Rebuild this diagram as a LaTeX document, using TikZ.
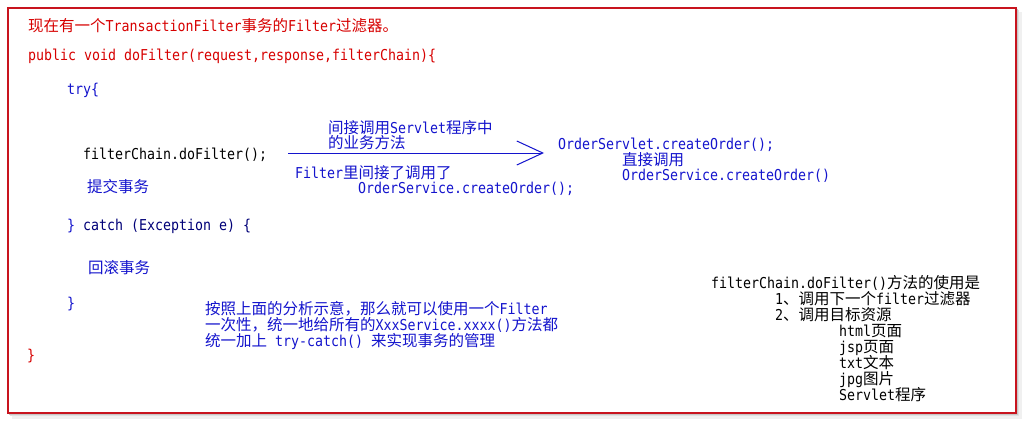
\documentclass[tikz,border=0pt]{standalone}
\usepackage{fontspec}
\setmainfont[FakeStretch=0.886]{DejaVu Sans Mono}
\newfontfamily\cjkf{Noto Sans CJK SC}
\newcommand\C[1]{{\cjkf\fontsize{15.5}{16}\selectfont #1}}
\usetikzlibrary{arrows.meta}
\definecolor{redtxt}{RGB}{215,0,0}
\definecolor{bluetxt}{RGB}{20,20,205}
\definecolor{navytxt}{RGB}{0,0,120}
\definecolor{frame}{RGB}{200,20,30}
\begin{document}
\begin{tikzpicture}[x=1pt,y=-1pt,
  t/.style={inner sep=0pt, anchor=base west, font=\fontsize{15}{16}\selectfont},
  red/.style={t, text=redtxt},
  blu/.style={t, text=bluetxt},
  blk/.style={t, text=black}]
\useasboundingbox (0,0) rectangle (1026,423);
% shadow and frame
\fill[black!6] (12,12) rectangle (1022,419);
\fill[black!12] (10,10) rectangle (1019,416);
\fill[black!22] (9,9) rectangle (1017.5,414.5);
\draw[frame, line width=1.4pt, fill=white] (8,8) rectangle (1016,413);
% code
\node[red] (l1) at (28,31) {\C{现在有一个}TransactionFilter\C{事务的}Filter\C{过滤器。}};
\node[red] (l2) at (28,60) {public void doFilter(request,response,filterChain)\{};
\node[blu] (try) at (67,94) {try\{};
\node[blk] (fc) at (83,159) {filterChain.doFilter();};
\node[blu] (commit) at (87,192) {\C{提交事务}};
\node[t, text=navytxt] (catch) at (67,230) {\textcolor{bluetxt}{\}} catch (Exception e) \{};
\node[blu] (rollback) at (88,273) {\C{回滚事务}};
\node[blu] (rb) at (67,308) {\}};
\node[red] (end) at (27,360) {\}};
% arrow and labels
\coordinate (a1) at (288,153);
\coordinate (a2) at (544,153);
\draw[bluetxt, line width=1pt, -{Straight Barb[length=26pt,width=24pt,line width=1pt]}] (a1) -- (a2);
\node[blu] (u1) at (328,133) {\C{间接调用}Servlet\C{程序中}};
\node[blu] (u2) at (328,148) {\C{的业务方法}};
\node[blu] (d1) at (295,178) {Filter\C{里间接了调用了}};
\node[blu] (d2) at (358,193) {OrderService.createOrder();};
\node[blu] (os) at (558,149) {OrderServlet.createOrder();};
\node[blu] (direct) at (622,165) {\C{直接调用}};
\node[blu] (svc) at (622,180) {OrderService.createOrder()};
% bottom note
\node[blu] (n1) at (205,314) {\C{按照上面的分析示意，那么就可以使用一个}Filter};
\node[blu] (n2) at (205,330) {\C{一次性，统一地给所有的}XxxService.xxxx()\C{方法都}};
\node[blu] (n3) at (205,346) {\C{统一加上} try-catch() \C{来实现事务的管理}};
% right block
\node[blk] (r1) at (711,288) {filterChain.doFilter()\C{方法的使用是}};
\node[blk] (r2) at (775,304) {1\C{、调用下一个}filter\C{过滤器}};
\node[blk] (r3) at (775,320) {2\C{、调用目标资源}};
\node[blk] (r4) at (839,336) {html\C{页面}};
\node[blk] (r5) at (839,352) {jsp\C{页面}};
\node[blk] (r6) at (839,368) {txt\C{文本}};
\node[blk] (r7) at (839,384) {jpg\C{图片}};
\node[blk] (r8) at (839,400) {Servlet\C{程序}};
\end{tikzpicture}
\end{document}
